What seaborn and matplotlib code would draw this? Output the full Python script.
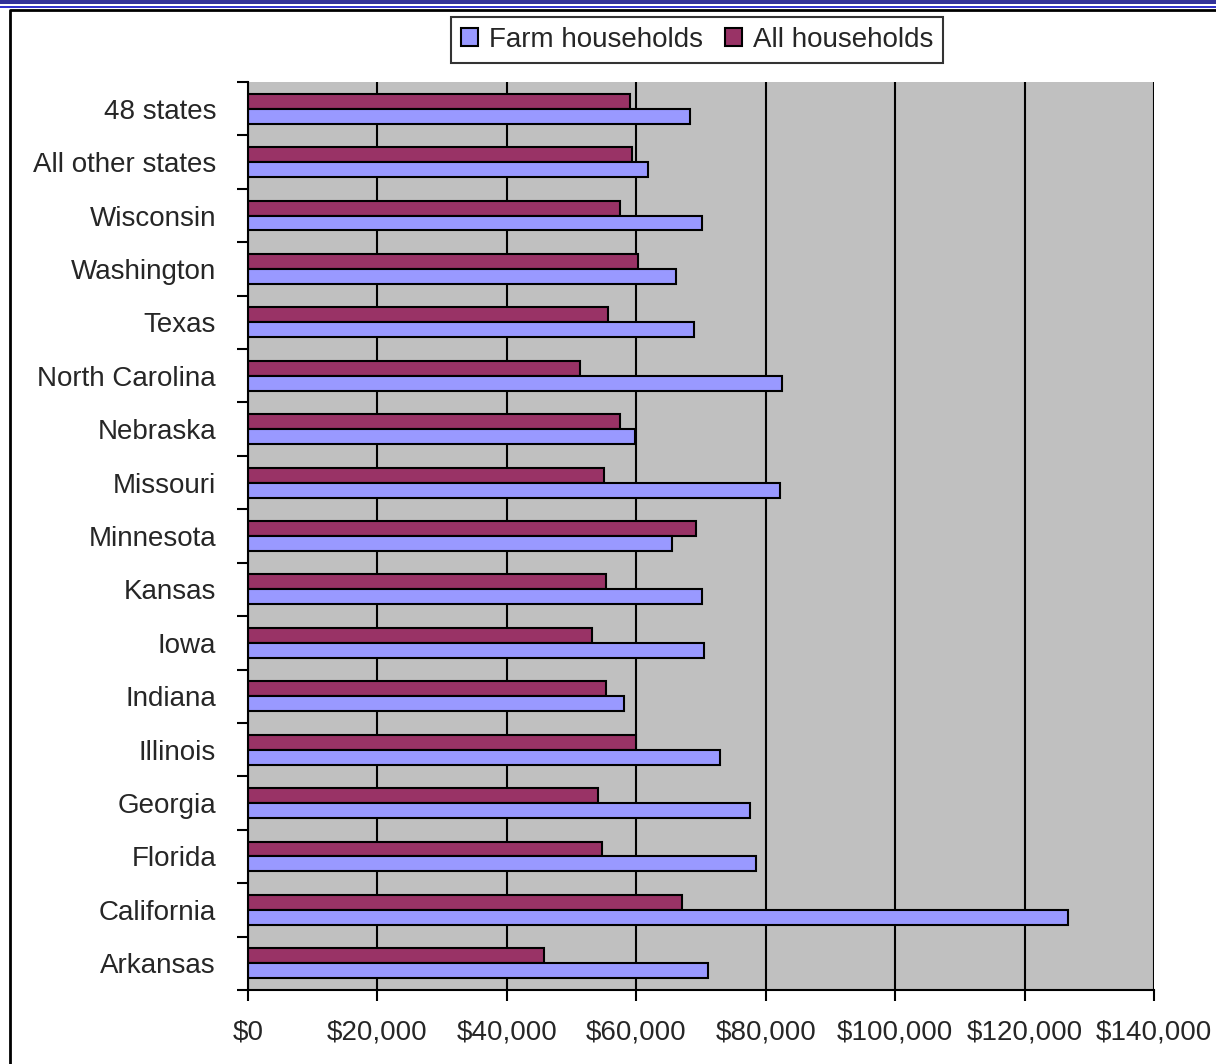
import pandas as pd
import seaborn as sns
import matplotlib.pyplot as plt
from matplotlib.patches import Patch, Rectangle
from matplotlib.ticker import FixedLocator, FuncFormatter

# Datos
estados = ['48 states', 'All other states', 'Wisconsin', 'Washington', 'Texas',
           'North Carolina', 'Nebraska', 'Missouri', 'Minnesota', 'Kansas', 'Iowa',
           'Indiana', 'Illinois', 'Georgia', 'Florida', 'California', 'Arkansas']
farm = [68300, 61800, 70200, 66100, 68900, 82500, 59800, 82200, 65500,
        70200, 70500, 58100, 72900, 77600, 78500, 126700, 71100]
all_hh = [59000, 59300, 57500, 60300, 55600, 51300, 57500, 55000, 69200,
          55300, 53200, 55300, 60000, 54100, 54700, 67100, 45700]

df = pd.DataFrame({'estado': estados * 2,
                   'ingreso': all_hh + farm,
                   'tipo': ['All households'] * len(estados) + ['Farm households'] * len(estados)})

colores = {'Farm households': '#9999FF', 'All households': '#993366'}

sns.set_style('white')
plt.rcParams['font.family'] = ['Liberation Sans', 'DejaVu Sans']

fig = plt.figure(figsize=(12.16, 10.64), dpi=100)
ax = fig.add_axes([248 / 1216, 1 - 990 / 1064, 906 / 1216, 908 / 1064])

sns.barplot(data=df, y='estado', x='ingreso', hue='tipo', orient='h',
            order=estados, hue_order=['All households', 'Farm households'],
            palette=colores, width=0.56, edgecolor='black', linewidth=1.5,
            saturation=1, legend=False, ax=ax)

ax.set_facecolor('#C0C0C0')
ax.set_xlim(0, 140000)
ax.set_ylim(len(estados) - 0.5, -0.5)
ax.set_xlabel('')
ax.set_ylabel('')

# grilla vertical
ax.set_xticks(range(0, 140001, 20000))
ax.xaxis.set_major_formatter(FuncFormatter(lambda v, p: '${:,.0f}'.format(v)))
ax.grid(axis='x', color='black', linewidth=1.5)
ax.set_axisbelow(True)

# ticks del eje y en los limites de categoria
ax.yaxis.set_minor_locator(FixedLocator([i - 0.5 for i in range(len(estados) + 1)]))
ax.tick_params(axis='y', which='major', length=0, pad=23, labelsize=20)
ax.tick_params(axis='y', which='minor', length=8, width=1.5, color='black', left=True)
ax.tick_params(axis='x', which='major', length=8, width=1.5, color='black',
               bottom=True, pad=13, labelsize=20)

for lado in ['top', 'right']:
    ax.spines[lado].set_visible(False)
for lado in ['left', 'bottom']:
    ax.spines[lado].set_color('black')
    ax.spines[lado].set_linewidth(1.5)

# leyenda
handles = [Patch(facecolor=colores['Farm households'], edgecolor='black', linewidth=1.5),
           Patch(facecolor=colores['All households'], edgecolor='black', linewidth=1.5)]
leg = fig.legend(handles, ['Farm households', 'All households'], loc='center',
                 bbox_to_anchor=(697 / 1216, 1 - 40 / 1064), ncol=2, fontsize=20,
                 frameon=True, fancybox=False, edgecolor='black', handlelength=0.6,
                 handleheight=0.6, handletextpad=0.4, columnspacing=0.8,
                 borderpad=0.35, borderaxespad=0)
leg.get_frame().set_linewidth(1.5)

# marco decorativo
fig.patches.append(Rectangle((0, 1 - 4 / 1064), 1, 4 / 1064, transform=fig.transFigure,
                             facecolor='#333399', edgecolor='none'))
fig.patches.append(Rectangle((0, 1 - 8 / 1064), 1, 2 / 1064, transform=fig.transFigure,
                             facecolor='#3333CC', edgecolor='none'))
fig.add_artist(plt.Line2D([10 / 1216, 10 / 1216, 1], [0, 1 - 10 / 1064, 1 - 10 / 1064],
                          transform=fig.transFigure, color='black', linewidth=2))

fig.savefig('out.png', dpi=100)
